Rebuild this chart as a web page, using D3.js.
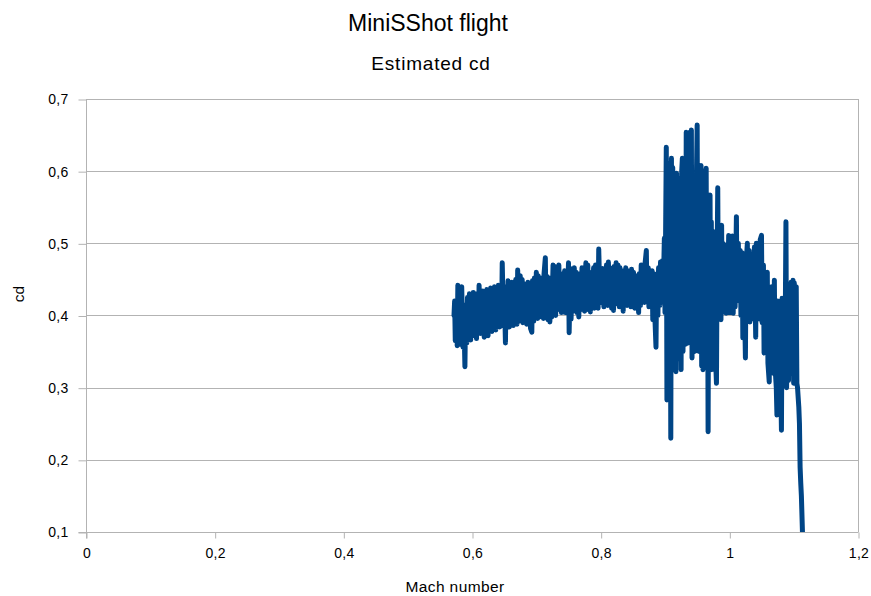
<!DOCTYPE html>
<html>
<head>
<meta charset="utf-8">
<script src="https://cdn.jsdelivr.net/npm/d3@7"></script>
<style>
  html, body { margin: 0; padding: 0; background: #ffffff; }
  svg { display: block; font-family: "Liberation Sans", Arial, sans-serif; }
</style>
</head>
<body>
<svg id="chart" width="871" height="596"></svg>
<script>
// ---- Data ----
const chartTitle = "MiniSShot flight";
const chartSubtitle = "Estimated cd";
const xAxisTitle = "Mach number";
const yAxisTitle = "cd";

const xTicks = [0, 0.2, 0.4, 0.6, 0.8, 1, 1.2];
const yTicks = [0.1, 0.2, 0.3, 0.4, 0.5, 0.6, 0.7];

const machNumber = [
  0.572,0.573,0.574,0.576,0.577,0.578,0.580,0.581,0.583,0.584,
  0.586,0.587,0.589,0.590,0.592,0.593,0.595,0.596,0.598,0.599,
  0.601,0.602,0.604,0.605,0.607,0.608,0.610,0.611,0.613,0.614,
  0.616,0.617,0.619,0.620,0.622,0.623,0.625,0.626,0.628,0.629,
  0.631,0.632,0.634,0.635,0.637,0.638,0.640,0.641,0.643,0.644,
  0.646,0.647,0.649,0.650,0.652,0.653,0.655,0.656,0.658,0.659,
  0.661,0.662,0.664,0.665,0.667,0.668,0.670,0.671,0.673,
  0.675,0.676,0.678,0.679,0.681,0.682,0.684,0.685,0.687,0.688,
  0.690,0.691,0.693,0.694,0.696,0.697,0.699,0.700,0.702,0.703,
  0.705,0.706,0.708,0.709,0.711,0.712,0.714,0.715,0.717,0.718,
  0.720,0.721,0.723,0.724,0.726,0.727,0.729,0.730,0.732,0.733,
  0.735,0.736,0.738,0.739,0.741,0.742,0.744,0.745,0.747,0.748,
  0.750,0.751,0.753,0.754,0.756,0.757,0.759,0.760,0.762,0.763,
  0.765,0.766,0.768,0.769,0.771,0.772,0.774,0.775,0.777,0.778,
  0.780,0.781,0.783,0.784,0.786,0.787,0.789,0.790,0.792,0.793,
  0.795,0.796,0.797,0.799,
  0.800,0.802,0.803,0.805,0.806,0.808,0.809,0.811,0.812,0.814,
  0.815,0.817,0.818,0.820,0.821,0.823,0.824,0.826,0.827,0.829,
  0.830,0.832,0.833,0.835,0.836,0.838,0.839,0.841,0.842,0.844,
  0.845,0.847,0.848,0.850,0.851,0.853,0.854,0.856,0.857,0.859,
  0.860,0.862,0.863,0.865,0.866,0.868,0.869,0.871,0.872,0.874,
  0.875,0.877,0.878,0.880,0.881,0.883,0.884,0.886,0.887,0.889,
  0.890,0.892,0.893,0.895,
  0.896,0.897,0.899,0.900,0.902,0.903,0.904,0.905,0.906,0.907,
  0.908,0.909,0.910,0.911,0.912,0.913,0.914,0.915,0.916,0.917,
  0.918,0.919,0.920,0.921,0.922,0.923,0.924,0.925,0.926,0.927,
  0.928,0.929,0.930,0.931,0.932,0.933,0.934,0.935,0.936,0.937,
  0.938,0.939,0.940,0.941,0.942,0.943,0.944,0.945,0.946,0.947,
  0.948,0.949,0.950,0.951,0.952,0.953,0.954,0.955,0.956,0.957,
  0.958,0.959,0.960,0.961,0.962,0.963,0.964,0.965,0.966,0.967,
  0.968,0.969,0.970,0.971,0.972,0.973,0.974,0.975,0.976,0.977,
  0.978,0.979,0.980,0.981,0.982,0.983,0.984,0.985,0.986,0.987,
  0.988,0.989,0.990,0.991,0.992,0.993,0.994,0.995,
  0.996,0.997,0.999,1.000,1.002,1.003,1.005,1.006,1.008,1.009,
  1.011,1.012,1.014,1.015,1.017,1.018,1.020,1.021,1.023,1.024,
  1.025,1.026,1.028,1.029,1.031,1.032,1.034,1.035,1.036,1.038,
  1.039,1.041,1.042,1.044,1.045,1.047,1.048,1.050,1.051,1.053,
  1.054,1.056,1.057,1.059,1.060,1.062,1.063,1.065,1.066,1.068,
  1.070,1.071,1.073,1.074,1.075,1.077,1.078,1.080,1.081,1.082,
  1.083,1.084,1.085,1.087,1.088,1.089,1.090,1.092,1.093,1.095,
  1.096,1.097,1.099,1.100,1.101,1.103,1.104,1.105,1.106,1.108,
  1.109,1.110,1.111,1.112,1.114
];

const cdValues = [
  0.400,0.420,0.365,0.410,0.358,0.442,0.360,0.435,0.372,0.440,
  0.356,0.415,0.329,0.405,0.362,0.425,0.370,0.430,0.366,0.428,
  0.372,0.432,0.378,0.430,0.368,0.425,0.380,0.442,0.375,0.428,
  0.382,0.434,0.370,0.420,0.384,0.436,0.372,0.430,0.386,0.438,
  0.378,0.432,0.388,0.440,0.380,0.436,0.390,0.442,0.384,0.438,
  0.392,0.473,0.386,0.440,0.362,0.436,0.388,0.448,0.384,0.444,
  0.392,0.446,0.386,0.440,0.394,0.450,0.388,0.463,0.392,
  0.455,0.396,0.450,0.390,0.444,0.398,0.442,0.388,0.446,0.394,
  0.438,0.382,0.377,0.448,0.392,0.452,0.400,0.460,0.396,0.455,
  0.398,0.452,0.404,0.450,0.396,0.458,0.480,0.402,0.454,0.394,
  0.448,0.391,0.452,0.398,0.470,0.404,0.468,0.400,0.462,0.408,
  0.470,0.410,0.458,0.404,0.456,0.412,0.462,0.404,0.458,0.410,
  0.473,0.376,0.465,0.395,0.458,0.406,0.466,0.410,0.460,0.404,
  0.455,0.398,0.458,0.408,0.466,0.412,0.462,0.406,0.473,0.414,
  0.470,0.408,0.460,0.405,0.456,0.412,0.466,0.410,0.470,0.414,
  0.462,0.410,0.492,0.418,
  0.460,0.418,0.465,0.412,0.458,0.420,0.470,0.414,0.474,0.420,
  0.466,0.410,0.460,0.407,0.468,0.416,0.473,0.418,0.470,0.412,
  0.466,0.420,0.462,0.406,0.458,0.418,0.466,0.414,0.462,0.420,
  0.456,0.412,0.464,0.416,0.460,0.410,0.455,0.418,0.452,0.404,
  0.458,0.414,0.470,0.420,0.462,0.418,0.472,0.490,0.421,0.466,
  0.412,0.459,0.416,0.462,0.394,0.458,0.404,0.356,0.450,0.400,
  0.466,0.414,0.474,0.420,
  0.476,0.420,0.507,0.404,0.633,0.283,0.580,0.370,0.610,0.345,
  0.600,0.230,0.618,0.380,0.605,0.350,0.590,0.330,0.585,0.322,
  0.597,0.360,0.560,0.340,0.590,0.380,0.570,0.325,0.600,0.618,
  0.350,0.610,0.400,0.580,0.360,0.654,0.380,0.650,0.362,0.640,
  0.400,0.654,0.420,0.657,0.341,0.563,0.370,0.540,0.350,0.560,
  0.390,0.600,0.664,0.380,0.563,0.350,0.580,0.400,0.608,0.330,
  0.600,0.325,0.590,0.400,0.580,0.350,0.604,0.330,0.560,0.239,
  0.540,0.380,0.567,0.360,0.530,0.325,0.500,0.380,0.516,0.360,
  0.490,0.330,0.306,0.480,0.577,0.400,0.520,0.420,0.510,0.394,
  0.525,0.410,0.500,0.405,0.495,0.420,0.480,0.403,
  0.498,0.412,0.511,0.404,0.505,0.410,0.510,0.403,0.495,0.412,
  0.537,0.420,0.500,0.426,0.490,0.400,0.487,0.369,0.480,0.395,
  0.341,0.470,0.500,0.400,0.490,0.391,0.485,0.395,0.470,0.410,
  0.495,0.370,0.500,0.400,0.488,0.395,0.505,0.511,0.390,0.470,
  0.348,0.460,0.380,0.460,0.334,0.308,0.430,0.340,0.440,0.320,
  0.449,0.330,0.300,0.262,0.420,0.320,0.410,0.300,0.241,0.424,
  0.330,0.424,0.310,0.400,0.530,0.300,0.380,0.310,0.420,0.330,
  0.446,0.320,0.449,0.306,0.445,0.320,0.440,0.306,0.300,0.273,
  0.250,0.190,0.168,0.150,0.090
];

// ---- Layout ----
const W = 871, H = 596;
const plot = { left: 86, right: 858, top: 99, bottom: 532 };
const lineColor = "#004586";
const gridColor = "#b3b3b3";
const textColor = "#000000";
const fontFamily = "'Liberation Sans', Arial, sans-serif";

const svg = d3.select("#chart");

const x = d3.scaleLinear().domain([0, 1.2]).range([plot.left, plot.right]);
const y = d3.scaleLinear().domain([0.1, 0.7]).range([plot.bottom, plot.top]);

const fmt = v => d3.format("")(+v.toFixed(1)).replace(".", ",");

// horizontal gridlines
svg.append("g")
  .selectAll("line")
  .data(yTicks)
  .join("line")
  .attr("x1", plot.left).attr("x2", plot.right)
  .attr("y1", d => Math.round(y(d)) + 0.5).attr("y2", d => Math.round(y(d)) + 0.5)
  .attr("stroke", gridColor).attr("stroke-width", 1);

// right border
svg.append("line")
  .attr("x1", plot.right + 0.5).attr("x2", plot.right + 0.5)
  .attr("y1", plot.top).attr("y2", plot.bottom)
  .attr("stroke", gridColor);

// Y axis
const yAxis = d3.axisLeft(y).tickValues(yTicks).tickSize(8).tickPadding(10).tickFormat(fmt);
const gy = svg.append("g").attr("transform", `translate(${plot.left + 0.5},0.5)`).call(yAxis);
gy.select(".domain").attr("stroke", gridColor).attr("d", `M0,${plot.top}V${plot.bottom + 6}`);
gy.selectAll(".tick line").attr("stroke", gridColor);
gy.selectAll(".tick text").attr("fill", textColor).style("font-size", "14px")
  .style("letter-spacing", "0.3px").style("font-family", fontFamily);

// X axis
const xAxis = d3.axisBottom(x).tickValues(xTicks).tickSize(6).tickPadding(10).tickFormat(fmt);
const gx = svg.append("g").attr("transform", `translate(0.5,${plot.bottom + 0.5})`).call(xAxis);
gx.select(".domain").attr("stroke", gridColor).attr("d", `M${plot.left - 8},0H${plot.right}`);
gx.selectAll(".tick line").attr("stroke", gridColor);
gx.selectAll(".tick text").attr("fill", textColor).style("font-size", "14px")
  .style("letter-spacing", "0.3px").style("font-family", fontFamily);

// clip
svg.append("clipPath").attr("id", "plotClip")
  .append("rect")
  .attr("x", plot.left).attr("y", plot.top)
  .attr("width", plot.right - plot.left).attr("height", plot.bottom - plot.top);

// data line
const points = machNumber.map((m, i) => [m, cdValues[i]]);
const line = d3.line().x(d => x(d[0])).y(d => y(d[1]));
svg.append("path")
  .datum(points)
  .attr("clip-path", "url(#plotClip)")
  .attr("d", line)
  .attr("fill", "none")
  .attr("stroke", lineColor)
  .attr("stroke-width", 5)
  .attr("stroke-linejoin", "round")
  .attr("stroke-linecap", "round");

// titles
svg.append("text")
  .attr("x", 428).attr("y", 31)
  .attr("text-anchor", "middle")
  .style("font-size", "23px")
  .attr("fill", textColor)
  .text(chartTitle);

svg.append("text")
  .attr("x", 431).attr("y", 70)
  .attr("text-anchor", "middle")
  .style("font-size", "19px")
  .style("letter-spacing", "0.8px")
  .attr("fill", textColor)
  .text(chartSubtitle);

svg.append("text")
  .attr("x", 455).attr("y", 592)
  .attr("text-anchor", "middle")
  .style("font-size", "15.5px")
  .style("letter-spacing", "0.4px")
  .attr("fill", textColor)
  .text(xAxisTitle);

svg.append("text")
  .attr("transform", "translate(24,294) rotate(-90)")
  .attr("text-anchor", "middle")
  .style("font-size", "15.5px")
  .attr("fill", textColor)
  .text(yAxisTitle);
</script>
</body>
</html>
